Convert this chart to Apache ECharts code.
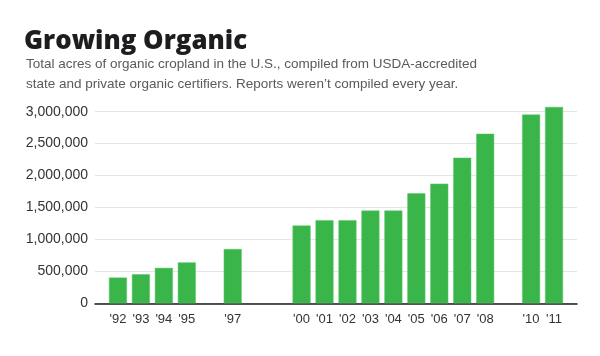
<!DOCTYPE html>
<html><head><meta charset="utf-8">
<script src="https://cdn.jsdelivr.net/npm/echarts@6/dist/echarts.min.js"></script>
<style>html,body{margin:0;padding:0;background:#fff}#c{width:600px;height:356px}</style>
</head><body><div id="c"></div>
<script>
const years = [1992, 1993, 1994, 1995, 1997, 2000, 2001, 2002, 2003, 2004, 2005, 2006, 2007, 2008, 2010, 2011];
const acres = [403000, 455000, 555000, 640000, 850000, 1218000, 1302000, 1302000, 1452000, 1452000, 1723000, 1873000, 2280000, 2655000, 2955000, 3075000];
const yTicks = [0, 500000, 1000000, 1500000, 2000000, 2500000, 3000000];

const chart = echarts.init(document.getElementById('c'), null, {renderer: 'canvas'});
chart.setOption({
  animation: false,
  title: [{
    text: 'Growing Organic',
    left: 19, top: 24,
    textStyle: {fontFamily: 'Open Sans', fontWeight: 800, fontSize: 25.8, color: '#1d1d1f'}
  }, {
    text: 'Total acres of organic cropland in the U.S., compiled from USDA-accredited\nstate and private organic certifiers. Reports weren\u2019t compiled every year.',
    left: 21, top: 49,
    textStyle: {fontFamily: 'Liberation Sans', fontWeight: 'normal', fontSize: 13.5, lineHeight: 20, color: '#5a5a5a'}
  }],
  grid: {left: 95, right: 23, top: 111.7, bottom: 52.7, containLabel: false},
  xAxis: {
    type: 'value', min: 1991, max: 2012, interval: 1,
    axisLine: {show: true, onZero: false, lineStyle: {color: '#1a1a1a', width: 1.5}},
    axisTick: {show: false},
    splitLine: {show: false},
    axisLabel: {
      margin: 10, fontFamily: 'Liberation Sans', fontSize: 13, color: '#333',
      formatter: v => years.indexOf(v) >= 0 ? '\'' + String(v).slice(2) : ''
    }
  },
  yAxis: {
    type: 'value', min: 0, max: yTicks[yTicks.length - 1], interval: 500000,
    axisLine: {show: false}, axisTick: {show: false},
    splitLine: {lineStyle: {color: '#e3e5ea', width: 1}},
    axisLabel: {
      margin: 7, fontFamily: 'Liberation Sans', fontSize: 14, color: '#333',
      formatter: v => v.toLocaleString('en-US')
    }
  },
  series: [{
    type: 'bar', clip: false, barWidth: 18,
    itemStyle: {color: '#3ab54a', borderColor: '#5cc96a', borderWidth: 0.5},
    data: years.map((y, i) => [y, acres[i]])
  }]
});
</script></body></html>
